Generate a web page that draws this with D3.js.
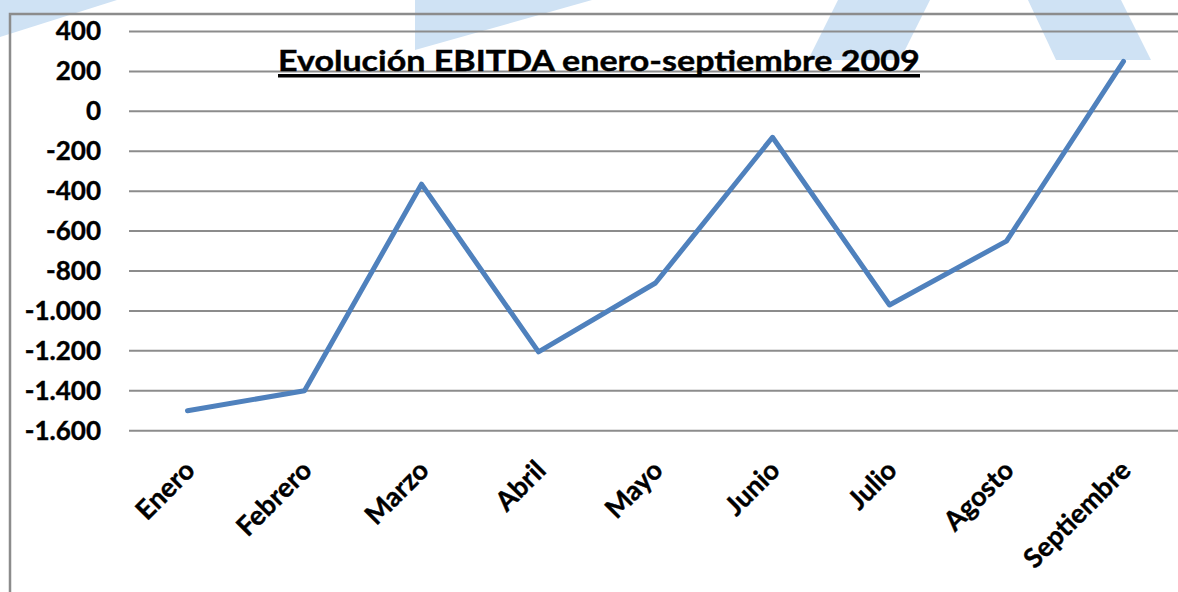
<!DOCTYPE html>
<html>
<head>
<meta charset="utf-8">
<script src="https://cdn.jsdelivr.net/npm/d3@7"></script>
<style>
  body { margin: 0; background: #ffffff; }
  svg text { font-family: Lato, "Open Sans", sans-serif; font-weight: 700; fill: #000; }
</style>
</head>
<body>
<div id="div_chart"></div>
<script>
// data
const months = ["Enero", "Febrero", "Marzo", "Abril", "Mayo", "Junio", "Julio", "Agosto", "Septiembre"];
const ebitda = [-1500, -1400, -365, -1205, -860, -130, -970, -650, 250];
const yTicks = [400, 200, 0, -200, -400, -600, -800, -1000, -1200, -1400, -1600];
const chartTitle = "Evolución EBITDA enero-septiembre 2009";

const svg_width = 1178;
const svg_height = 592;

let svg = d3.select("#div_chart")
  .append("svg")
    .attr("width", svg_width)
    .attr("height", svg_height)

// light blue watermark shapes behind the chart
const wm = "#cfe2f4";
const watermark = [
  [[0, 0], [117, 0], [0, 37]],
  [[415, 0], [592, 0], [415, 50]],
  [[838, 0], [930, 0], [900, 60], [808, 60]],
  [[1028, 0], [1121, 0], [1151, 60], [1056, 60]]
];
svg.selectAll("polygon.wm")
  .data(watermark)
  .enter().append("polygon")
    .attr("class", "wm")
    .attr("points", d => d.map(p => p.join(",")).join(" "))
    .attr("fill", wm)

// chart frame
svg.append("rect")
    .attr("x", 10)
    .attr("y", 14)
    .attr("width", 1300)
    .attr("height", 700)
    .attr("fill", "none")
    .attr("stroke", "#8c8c8c")
    .attr("stroke-width", 2.5)

const x = d3.scaleBand()
    .domain(months)
    .range([129, 1182])

const y = d3.scaleLinear()
    .domain([-1600, 400])
    .range([430.7, 31.5])

const esLocale = d3.formatLocale({decimal: ",", thousands: ".", grouping: [3], currency: ["", " €"], minus: "-"});
const fmt = esLocale.format(",");

// gridlines
svg.append("g")
  .selectAll("line")
  .data(yTicks)
  .enter().append("line")
    .attr("x1", 129)
    .attr("x2", svg_width)
    .attr("y1", d => y(d))
    .attr("y2", d => y(d))
    .attr("stroke", "#8c8c8c")
    .attr("stroke-width", 2)

// y axis labels
const yAxis = svg.append("g")
    .attr("transform", "translate(101,0)")
    .call(d3.axisLeft(y).tickValues(yTicks).tickFormat(fmt).tickSize(0).tickPadding(0))
yAxis.select(".domain").remove();
yAxis.selectAll("text")
    .style("font-family", "Lato, sans-serif")
    .style("font-weight", 700)
    .style("font-size", "26px")
    .attr("fill", "#000")
    .attr("stroke", "#000")
    .attr("stroke-width", 0.4)

// x axis labels, rotated
const xAxis = svg.append("g")
    .attr("transform", "translate(0,472)")
    .call(d3.axisBottom(x).tickSize(0).tickPadding(0))
xAxis.select(".domain").remove();
xAxis.selectAll("text")
    .style("font-family", "Lato, sans-serif")
    .style("font-weight", 700)
    .style("font-size", "27px")
    .attr("fill", "#000")
    .attr("stroke", "#000")
    .attr("stroke-width", 0.4)
    .attr("text-anchor", "end")
    .attr("dy", 0)
    .attr("y", 0)
    .attr("transform", "translate(9,0) rotate(-45)")

// series line
const line = d3.line()
    .x((d, i) => x(months[i]) + x.bandwidth() / 2)
    .y(d => y(d))

svg.append("path")
    .datum(ebitda)
    .attr("d", line)
    .attr("fill", "none")
    .attr("stroke", "#4f81bd")
    .attr("stroke-width", 5)
    .attr("stroke-linejoin", "round")
    .attr("stroke-linecap", "round")

// title, underlined
const title = svg.append("text")
    .attr("x", 0)
    .attr("y", 0)
    .style("font-size", "29px")
    .attr("stroke", "#000")
    .attr("stroke-width", 0.4)
    .text(chartTitle)
const tw = title.node().getComputedTextLength();
const targetW = 642;
title.attr("transform", "translate(278,70.5) scale(" + (targetW / tw) + ",1)")

svg.append("rect")
    .attr("x", 278)
    .attr("y", 74)
    .attr("width", targetW)
    .attr("height", 3.5)
    .attr("fill", "#000")
</script>
</body>
</html>
